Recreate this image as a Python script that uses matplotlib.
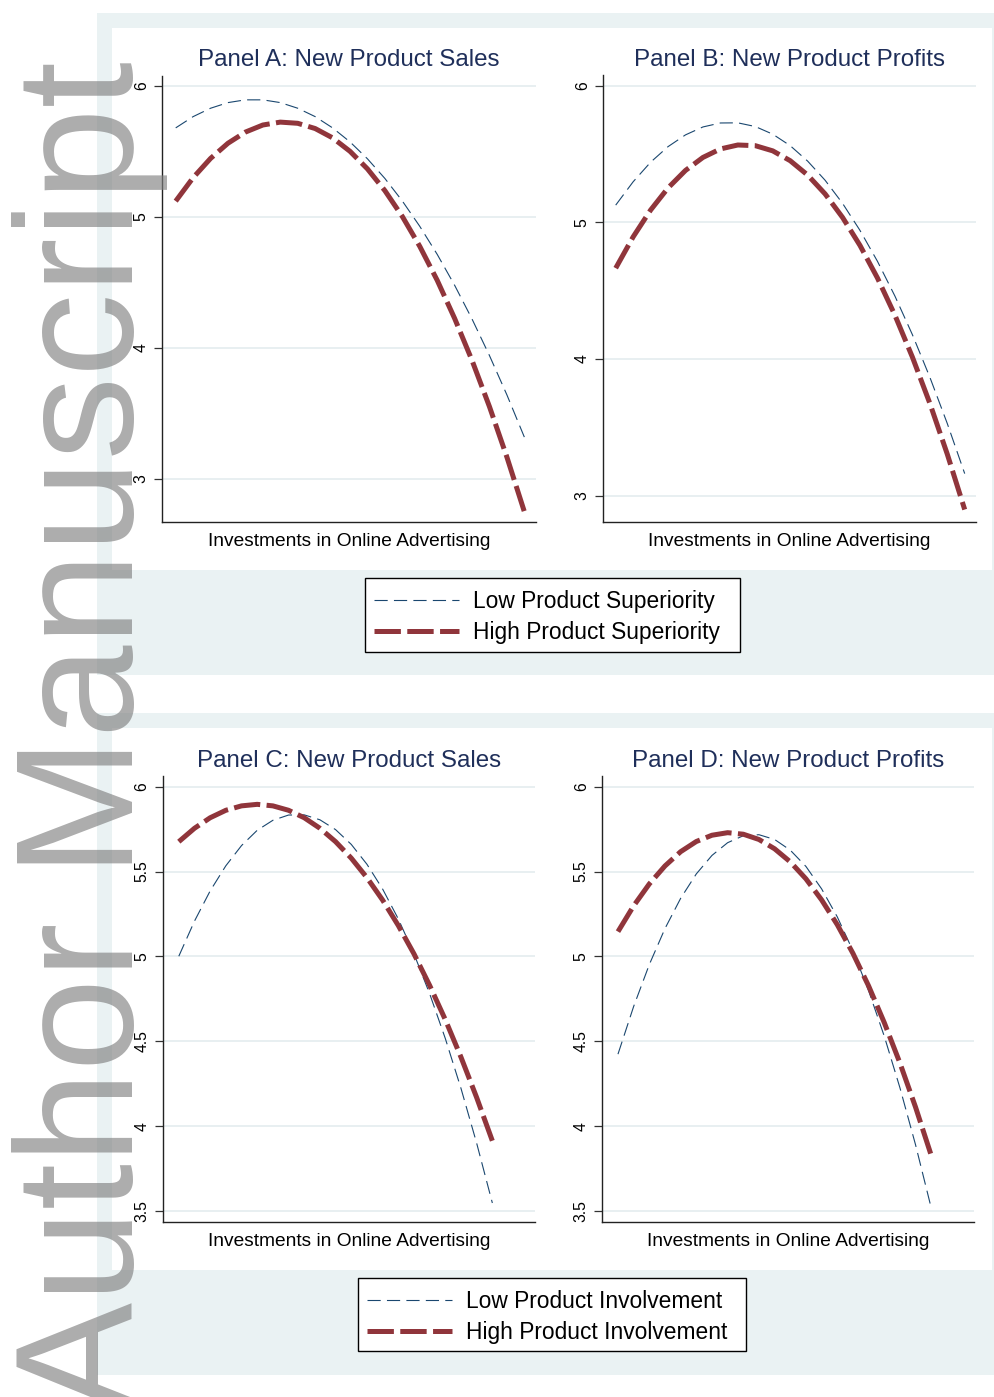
import matplotlib
matplotlib.use('Agg')
import matplotlib.pyplot as plt
from matplotlib.patches import Rectangle
from matplotlib.lines import Line2D

plt.rcParams['font.family'] = ['Liberation Sans', 'DejaVu Sans']
plt.rcParams['lines.scale_dashes'] = False

# ---------------- data ----------------
x_steps = list(range(21))

# Panel A: New Product Sales (product superiority)
sales_low_sup = [5.680, 5.766, 5.830, 5.873, 5.894, 5.894, 5.873, 5.830, 5.766, 5.680, 5.573,
                 5.444, 5.294, 5.122, 4.929, 4.715, 4.479, 4.221, 3.942, 3.642, 3.320]
sales_high_sup = [5.121, 5.300, 5.447, 5.563, 5.648, 5.702, 5.724, 5.715, 5.675, 5.604, 5.501,
                  5.367, 5.201, 5.004, 4.776, 4.517, 4.226, 3.905, 3.552, 3.167, 2.751]
# Panel B: New Product Profits (product superiority)
profit_low_sup = [5.126, 5.297, 5.440, 5.554, 5.640, 5.698, 5.727, 5.728, 5.701, 5.645, 5.561,
                  5.448, 5.308, 5.139, 4.941, 4.715, 4.461, 4.179, 3.868, 3.529, 3.162]
profit_high_sup = [4.665, 4.894, 5.090, 5.252, 5.380, 5.475, 5.537, 5.566, 5.561, 5.523, 5.451,
                   5.346, 5.208, 5.036, 4.831, 4.593, 4.321, 4.015, 3.677, 3.305, 2.899]
# Panel C: New Product Sales (product involvement)
sales_low_inv = [5.001, 5.208, 5.386, 5.534, 5.653, 5.743, 5.802, 5.833, 5.834, 5.805, 5.747,
                 5.660, 5.543, 5.397, 5.221, 5.015, 4.780, 4.516, 4.222, 3.899, 3.547]
sales_high_inv = [5.676, 5.755, 5.817, 5.861, 5.887, 5.896, 5.887, 5.861, 5.817, 5.755, 5.676,
                  5.579, 5.464, 5.332, 5.182, 5.015, 4.829, 4.627, 4.406, 4.168, 3.913]
# Panel D: New Product Profits (product involvement)
profit_low_inv = [4.424, 4.705, 4.952, 5.164, 5.342, 5.486, 5.595, 5.670, 5.711, 5.717, 5.689,
                  5.626, 5.530, 5.398, 5.233, 5.033, 4.798, 4.530, 4.226, 3.889, 3.517]
profit_high_inv = [5.146, 5.298, 5.427, 5.533, 5.617, 5.677, 5.714, 5.729, 5.720, 5.689, 5.634,
                   5.557, 5.457, 5.333, 5.187, 5.018, 4.826, 4.610, 4.372, 4.111, 3.827]

titles = ["Panel A: New Product Sales", "Panel B: New Product Profits",
          "Panel C: New Product Sales", "Panel D: New Product Profits"]
xlabel = "Investments in Online Advertising"
yticks_top = [3, 4, 5, 6]
yticks_bottom = [3.5, 4, 4.5, 5, 5.5, 6]
ytick_labels_bottom = ["3.5", "4", "4.5", "5", "5.5", "6"]
legend_top = ["Low Product Superiority", "High Product Superiority"]
legend_bottom = ["Low Product Involvement", "High Product Involvement"]

# ---------------- style ----------------
W, H = 995, 1397
BG = '#EAF2F3'
NAVY = '#1A476F'
MAROON = '#90353B'
TITLE_C = '#1F2F5A'
low_style = dict(color=NAVY, lw=0.8, dashes=(9.5, 4.5), dash_capstyle='butt')
high_style = dict(color=MAROON, lw=3.6, dashes=(19, 4.6), dash_capstyle='butt')

fig = plt.figure(figsize=(W / 100, H / 100), dpi=100)
fig.patch.set_facecolor('white')


def rect(x0, y0, x1, y1, face, z=-5, edge='none', lw=0):
    fig.add_artist(Rectangle((x0 / W, 1 - y1 / H), (x1 - x0) / W, (y1 - y0) / H,
                             transform=fig.transFigure, facecolor=face,
                             edgecolor=edge, linewidth=lw, zorder=z))


# graph regions (outer light band and inner white)
rect(97, 13, 995, 675, BG)
rect(112, 28, 992, 570, 'white', -4)
rect(97, 713, 995, 1375, BG)
rect(112, 728, 992, 1270, 'white', -4)


def make_ax(l, t, r, b, xlim, ylim, yticks, ylabels, low, high, title, title_y, xl_y):
    ax = fig.add_axes([l / W, 1 - b / H, (r - l) / W, (b - t) / H])
    ax.set_facecolor('white')
    ax.plot(x_steps, low, **low_style)
    ax.plot(x_steps, high, **high_style)
    ax.set_xlim(*xlim)
    ax.set_ylim(*ylim)
    ax.set_xticks([])
    ax.set_yticks(yticks)
    ax.set_yticklabels(ylabels, rotation=90, va='center', fontsize=11.3)
    ax.tick_params(axis='y', length=6, width=0.9, pad=3.5, color='#333333')
    for y in yticks:
        ax.axhline(y, color='#E6EEF0', lw=1.3, zorder=0)
    for s in ['top', 'right']:
        ax.spines[s].set_visible(False)
    for s in ['left', 'bottom']:
        ax.spines[s].set_color('#222222')
        ax.spines[s].set_linewidth(1.0)
    cx = (l + r) / 2 / W
    fig.text(cx, 1 - title_y / H, title, ha='center', va='baseline',
             fontsize=17.4, color=TITLE_C)
    fig.text(cx, 1 - xl_y / H, xlabel, ha='center', va='baseline',
             fontsize=13.8, color='black')
    return ax


top_labels = [str(v) for v in yticks_top]
make_ax(162, 76, 535.5, 522, (-0.786, 20.64), (2.672, 6.076), yticks_top, top_labels,
        sales_low_sup, sales_high_sup, titles[0], 66, 545.5)
make_ax(603, 75, 975.7, 522, (-0.728, 20.63), (2.808, 6.078), yticks_top, top_labels,
        profit_low_sup, profit_high_sup, titles[1], 66, 545.5)
make_ax(162.5, 776, 535, 1222, (-1.04, 22.72), (3.435, 6.063), yticks_bottom,
        ytick_labels_bottom, sales_low_inv, sales_high_inv, titles[2], 767, 1245.5)
make_ax(602, 776, 973.7, 1222, (-1.02, 22.71), (3.435, 6.063), yticks_bottom,
        ytick_labels_bottom, profit_low_inv, profit_high_inv, titles[3], 767, 1245.5)

handles = [Line2D([], [], **low_style), Line2D([], [], **high_style)]


def make_legend(labels, box, handle_x, cy):
    x0, y0, x1, y1 = box
    rect(x0, y0, x1, y1, 'white', z=2, edge='black', lw=1.0)
    fs = 16.4
    leg = fig.legend(handles, labels, loc='center left',
                     bbox_to_anchor=(handle_x / W, 1 - cy / H),
                     frameon=False, fontsize=fs, handlelength=85 / (fs * 100 / 72),
                     handletextpad=0.62, borderpad=0, labelspacing=0.36,
                     borderaxespad=0)
    leg.set_zorder(3)
    return leg


make_legend(legend_top, (365, 578, 740, 652), 374, 617)
make_legend(legend_bottom, (358, 1278, 746, 1351), 367, 1317)

# watermark
fig.text(133 / W, 1 - 1413 / H, "Author Manuscript", rotation=90, rotation_mode='anchor',
         ha='left', va='baseline', fontsize=120, color=(0.5, 0.5, 0.5), alpha=0.65,
         zorder=20)

fig.savefig('out.png', dpi=100, facecolor='white')
